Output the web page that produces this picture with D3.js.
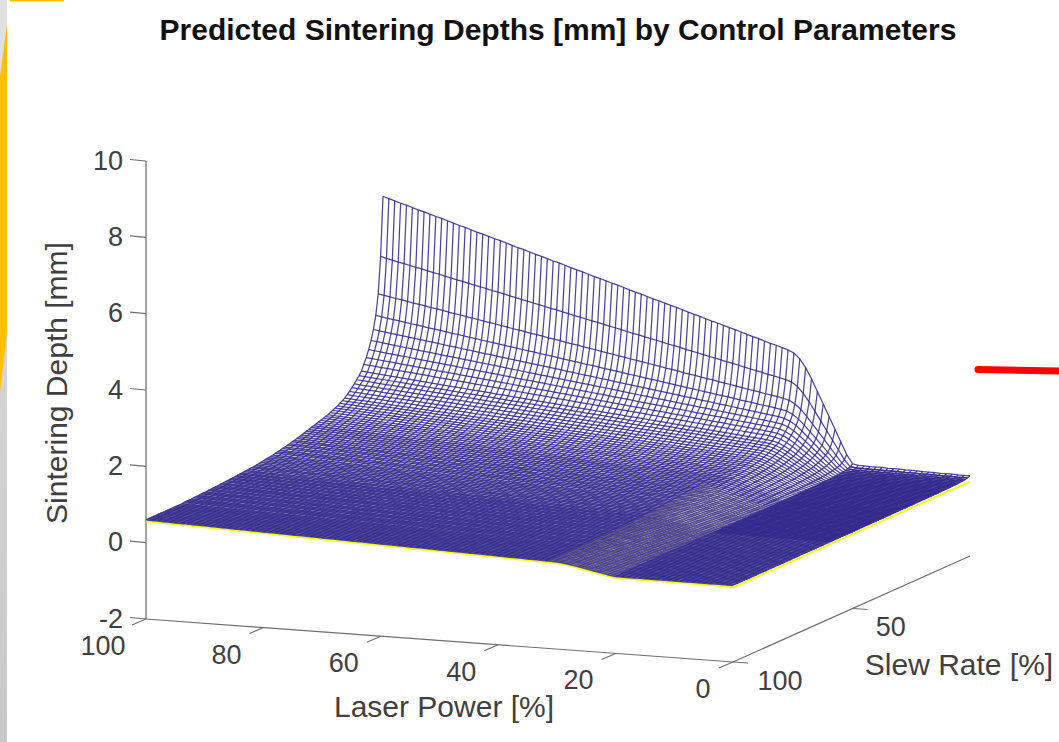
<!DOCTYPE html>
<html>
<head>
<meta charset="utf-8">
<script src="https://d3js.org/d3.v7.min.js"></script>
<style>
  html, body { margin: 0; padding: 0; background: #fff; }
  text { font-family: "Liberation Sans", Arial, sans-serif; }
</style>
</head>
<body>
<div id="container"></div>
<script>

const powerTicks = [100, 80, 60, 40, 20, 0]
const slewTicks = [100, 50]
const depthTicks = [-2, 0, 2, 4, 6, 8, 10]

// depth [mm] along the back edge (slew rate 1), for laser power 0, 1, ... 100
const backEdgeDepth = [
  0.10, 0.10, 0.10, 0.11, 0.11, 0.11, 0.12, 0.12, 0.12, 0.13,
  0.13, 0.13, 0.14, 0.14, 0.14, 0.15, 0.15, 0.15, 0.16, 0.16,
  0.19, 0.42, 0.74, 1.06, 1.38, 1.70, 2.02, 2.34, 2.62, 2.84,
  2.98, 3.05, 3.10, 3.15, 3.19, 3.24, 3.29, 3.33, 3.38, 3.43,
  3.48, 3.52, 3.57, 3.62, 3.66, 3.71, 3.76, 3.80, 3.85, 3.90,
  3.95, 3.99, 4.04, 4.09, 4.13, 4.18, 4.23, 4.27, 4.32, 4.37,
  4.42, 4.46, 4.51, 4.56, 4.60, 4.65, 4.70, 4.74, 4.79, 4.84,
  4.89, 4.93, 4.98, 5.03, 5.07, 5.12, 5.17, 5.21, 5.26, 5.31,
  5.36, 5.40, 5.45, 5.50, 5.54, 5.59, 5.64, 5.68, 5.73, 5.78,
  5.83, 5.87, 5.92, 5.97, 6.01, 6.06, 6.11, 6.15, 6.20, 6.25,
  6.30
]

// depth [mm] along the left edge (laser power 100), for slew rate 1, 2, ... 100
const leftEdgeDepth = [
  6.30, 4.75, 3.80, 3.26, 2.92, 2.66, 2.45, 2.27, 2.12, 1.97,
  1.88, 1.80, 1.72, 1.65, 1.58, 1.52, 1.46, 1.42, 1.38, 1.34,
  1.31, 1.28, 1.25, 1.22, 1.20, 1.18, 1.16, 1.14, 1.12, 1.10,
  1.08, 1.06, 1.04, 1.02, 1.00, 0.98, 0.96, 0.94, 0.93, 0.91,
  0.90, 0.88, 0.87, 0.85, 0.84, 0.83, 0.81, 0.80, 0.79, 0.78,
  0.77, 0.76, 0.75, 0.74, 0.73, 0.73, 0.72, 0.71, 0.71, 0.70,
  0.70, 0.69, 0.69, 0.68, 0.68, 0.67, 0.67, 0.66, 0.66, 0.65,
  0.65, 0.65, 0.64, 0.64, 0.63, 0.63, 0.63, 0.62, 0.62, 0.62,
  0.61, 0.61, 0.61, 0.61, 0.60, 0.60, 0.60, 0.60, 0.60, 0.60,
  0.60, 0.60, 0.60, 0.60, 0.60, 0.60, 0.60, 0.60, 0.60, 0.60
]

const width = 1059
const height = 742

const svg = d3.select("#container")
  .append("svg")
  .attr("width", width)
  .attr("height", height)
  .style("display", "block")
  .style("background-color", "#fff")

// bits of the slide behind the figure
const defs = svg.append("defs")
const grad = defs.append("linearGradient").attr("id", "sideGray").attr("x1", 0).attr("x2", 0).attr("y1", 0).attr("y2", 1)
grad.append("stop").attr("offset", 0).attr("stop-color", "#e2e2e2")
grad.append("stop").attr("offset", 1).attr("stop-color", "#c8c8c8")
svg.append("rect").attr("width", 7).attr("height", height).attr("fill", "url(#sideGray)")
svg.append("path").attr("d", "M7,24L0,76L0,392L7,332Z").attr("fill", "#ffc000")
svg.append("rect").attr("x", 10).attr("width", 54).attr("height", 1.5).attr("fill", "#ffc000")
svg.append("line")
  .attr("x1", 978).attr("y1", 369.5).attr("x2", 1065).attr("y2", 371)
  .attr("stroke", "#ff0000").attr("stroke-width", 7).attr("stroke-linecap", "round")

// the view is an oblique one: each data axis moves the point along its own screen direction
const powerX = d3.scaleLinear().domain([100, 0]).range([146, 733])
const powerY = d3.scaleLinear().domain([100, 0]).range([0, 43])
const slewX = d3.scaleLinear().domain([100, 1]).range([0, 237])
const slewY = d3.scaleLinear().domain([100, 1]).range([0, -106])
const depthY = d3.scaleLinear().domain([-2, 10]).range([619, 161])

const project = (p, s, z) => [powerX(p) + slewX(s), powerY(p) + slewY(s) + depthY(z)]

const powers = d3.range(0, 101)
const slews = d3.range(1, 101)
const peak = backEdgeDepth[100]

// the surface is the product of the two edge profiles
const depthAt = (p, s) => backEdgeDepth[p] * leftEdgeDepth[s - 1] / peak

const line = d3.line()

const axisColor = "#6e6e6e"
const textColor = "#404040"

function seg(a, b, color, w) {
  svg.append("line")
    .attr("x1", a[0]).attr("y1", a[1]).attr("x2", b[0]).attr("y2", b[1])
    .attr("stroke", color).attr("stroke-width", w)
}

// axes
seg(project(100, 100, -2), project(100, 100, 10), "#8c8c8c", 1.6)
seg(project(100, 100, -2), project(0, 100, -2), axisColor, 1.2)
seg(project(0, 100, -2), project(0, 1, -2), axisColor, 1.2)

const ticks = 14
depthTicks.forEach(z => {
  const a = project(100, 100, z)
  seg(a, [a[0] - 16, a[1] - 1.5], axisColor, 1.1)
  svg.append("text")
    .attr("x", a[0] - 23).attr("y", a[1] - 1.5 + 10)
    .attr("text-anchor", "end").attr("font-size", 27).attr("fill", textColor)
    .text(z)
})
powerTicks.forEach(p => {
  const a = project(p, 100, -2)
  seg(a, [a[0] - ticks, a[1] + 6], axisColor, 1.1)
  svg.append("text")
    .attr("x", a[0] - (p == 100 ? 43 : p == 0 ? 30 : 37)).attr("y", a[1] + 36)
    .attr("text-anchor", "middle").attr("font-size", 27).attr("fill", textColor)
    .text(p)
})
slewTicks.forEach(s => {
  const a = project(0, s, -2)
  seg(a, [a[0] + 15, a[1] + 1], axisColor, 1.1)
  svg.append("text")
    .attr("x", a[0] + (s == 50 ? 38 : 47)).attr("y", a[1] + 28)
    .attr("text-anchor", "middle").attr("font-size", 27).attr("fill", textColor)
    .text(s)
})

// yellow mesh shows only along its outer edge and through the steep band
const yellowEdge = svg.append("g").attr("fill", "none").attr("stroke", "#f9fb15").attr("stroke-width", 2)
yellowEdge.append("path").attr("d", line(powers.map(p => project(p, 100, depthAt(p, 100) - 0.04))))
yellowEdge.append("path").attr("d", line(slews.map(s => project(0, s, -0.05))))

// far rows bunch up on screen, they are drawn a bit heavier so they close up like the original
const mesh = svg.append("g")
  .attr("fill", "none")
  .attr("stroke", "#332a8c")
  .attr("stroke-opacity", 0.88)
mesh.selectAll(".row")
  .data(slews)
  .join("path")
  .attr("class", "row")
  .attr("stroke-width", s => s < 30 ? 1.25 : s < 60 ? 1.5 : 1.7)
  .attr("d", s => line(powers.map(p => project(p, s, depthAt(p, s)))))
mesh.selectAll(".col")
  .data(powers)
  .join("path")
  .attr("class", "col")
  .attr("stroke-width", 1.25)
  .attr("d", p => line(slews.map(s => project(p, s, depthAt(p, s)))))

// the flat low power shelf reads as almost solid blue
const shelfPowers = powers.filter(p => p < 21)
mesh.selectAll(".shelf")
  .data(slews.filter(s => s > 1 && s < 60))
  .join("path")
  .attr("class", "shelf")
  .attr("stroke-width", 1.5)
  .attr("d", s => line(shelfPowers.map(p => project(p, s, depthAt(p, s)))))

const bandPowers = powers.filter(p => p > 20 && p < 32)
const bandSlews = slews.filter(s => s > 35)
svg.append("g")
  .attr("fill", "none")
  .attr("stroke", "#e0e020")
  .attr("stroke-width", 0.9)
  .attr("stroke-opacity", 0.36)
  .selectAll("path")
  .data(bandPowers)
  .join("path")
  .attr("d", p => line(bandSlews.map(s => project(p, s, depthAt(p, s)))))

svg.append("text")
  .attr("x", 558).attr("y", 40)
  .attr("text-anchor", "middle").attr("font-size", 30).attr("font-weight", "bold").attr("fill", "#111")
  .text("Predicted Sintering Depths [mm] by Control Parameters")
svg.append("text")
  .attr("x", 444).attr("y", 717)
  .attr("text-anchor", "middle").attr("font-size", 30).attr("fill", textColor)
  .text("Laser Power [%]")
svg.append("text")
  .attr("x", 959).attr("y", 675)
  .attr("text-anchor", "middle").attr("font-size", 30).attr("fill", textColor)
  .text("Slew Rate [%]")
svg.append("text")
  .attr("transform", "translate(67,383)rotate(-90)")
  .attr("text-anchor", "middle").attr("font-size", 30).attr("fill", textColor)
  .text("Sintering Depth [mm]")
</script>
</body>
</html>
